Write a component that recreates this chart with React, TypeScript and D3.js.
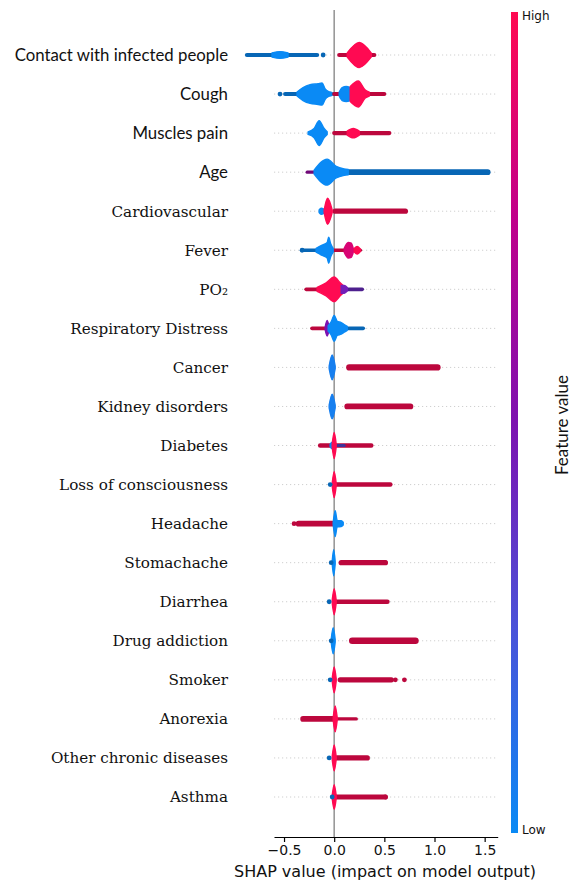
import React, { useEffect, useRef } from "react";
import * as d3 from "d3";

// Features, top to bottom (ordered by mean |SHAP|)
const features = [
  "Contact with infected people",
  "Cough",
  "Muscles pain",
  "Age",
  "Cardiovascular",
  "Fever",
  "PO₂",
  "Respiratory Distress",
  "Cancer",
  "Kidney disorders",
  "Diabetes",
  "Loss of consciousness",
  "Headache",
  "Stomachache",
  "Diarrhea",
  "Drug addiction",
  "Smoker",
  "Anorexia",
  "Other chronic diseases",
  "Asthma",
];

// Features whose labels are set in the sans face
const sansLabels = ["Contact with infected people", "Cough", "Muscles pain", "Age"];

const xTicks = [-0.5, 0, 0.5, 1, 1.5];

// Dense runs of points: [feature, feature value (0 low .. 1 high), shap from, shap to, density]
const bands: [string, number, number, number, number][] = [
  ["Contact with infected people", 0, -0.87, -0.17, 0.16],
  ["Contact with infected people", 1, 0.05, 0.4, 0.16],
  ["Cough", 0, -0.49, -0.3, 0.15],
  ["Cough", 0, -0.12, 0.0, 0.14],
  ["Cough", 1, 0.0, 0.07, 0.15],
  ["Cough", 1, 0.3, 0.5, 0.15],
  ["Muscles pain", 1, 0.0, 0.55, 0.16],
  ["Age", 0.6, -0.27, -0.18, 0.12],
  ["Age", 0, 0.0, 1.53, 0.22],
  ["Cardiovascular", 1, 0.01, 0.71, 0.2],
  ["Fever", 0, -0.31, -0.17, 0.14],
  ["Fever", 1, 0.0, 0.26, 0.14],
  ["PO₂", 1, -0.28, -0.14, 0.14],
  ["PO₂", 0.4, 0.08, 0.28, 0.14],
  ["Respiratory Distress", 1, -0.22, -0.09, 0.15],
  ["Respiratory Distress", 0, 0.1, 0.29, 0.14],
  ["Cancer", 1, 0.15, 1.03, 0.24],
  ["Kidney disorders", 1, 0.13, 0.76, 0.22],
  ["Diabetes", 1, -0.14, 0.37, 0.17],
  ["Diabetes", 0.3, -0.03, 0.1, 0.12],
  ["Loss of consciousness", 1, 0.0, 0.56, 0.17],
  ["Headache", 1, -0.355, -0.02, 0.22],
  ["Stomachache", 1, 0.07, 0.51, 0.2],
  ["Diarrhea", 1, 0.02, 0.53, 0.18],
  ["Drug addiction", 1, 0.18, 0.81, 0.25],
  ["Smoker", 1, 0.06, 0.57, 0.2],
  ["Anorexia", 1, -0.31, 0.0, 0.22],
  ["Anorexia", 1, 0.0, 0.22, 0.13],
  ["Other chronic diseases", 1, 0.03, 0.33, 0.2],
  ["Asthma", 1, 0.02, 0.51, 0.2],
];

// Piled-up clusters: feature, feature value, profile of [shap, density]
const blobs: { feature: string; v: number; pts: [number, number][] }[] = [
  { feature: "Contact with infected people", v: 0, pts: [[-0.62, 0.16], [-0.54, 0.26], [-0.46, 0.16]] },
  { feature: "Contact with infected people", v: 1, pts: [[0.13, 0.15], [0.25, 0.96], [0.37, 0.15]] },
  { feature: "Cough", v: 0, pts: [[-0.37, 0.15], [-0.31, 0.5], [-0.24, 0.72], [-0.16, 0.8], [-0.12, 0.85], [-0.09, 0.4], [-0.06, 0.2], [-0.03, 0.14]] },
  { feature: "Cough", v: 0, pts: [[0.05, 0.15], [0.08, 0.5], [0.12, 0.58], [0.16, 0.5]] },
  { feature: "Cough", v: 1, pts: [[0.16, 0.58], [0.24, 1.0], [0.31, 0.3], [0.35, 0.15]] },
  { feature: "Muscles pain", v: 0, pts: [[-0.26, 0.1], [-0.2, 0.35], [-0.15, 0.95], [-0.1, 0.35], [-0.07, 0.1]] },
  { feature: "Muscles pain", v: 1, pts: [[0.13, 0.15], [0.19, 0.36], [0.25, 0.15]] },
  { feature: "Age", v: 0, pts: [[-0.2, 0.15], [-0.07, 1.0], [0.02, 0.45], [0.1, 0.25], [0.14, 0.2]] },
  { feature: "Cardiovascular", v: 0, pts: [[-0.15, 0.1], [-0.13, 0.24], [-0.1, 0.15]] },
  { feature: "Cardiovascular", v: 1, pts: [[-0.1, 0.1], [-0.066, 1.0], [-0.02, 0.1]] },
  { feature: "Fever", v: 0, pts: [[-0.18, 0.15], [-0.12, 0.4], [-0.07, 0.6], [-0.055, 1.0], [-0.035, 0.5], [-0.01, 0.15]] },
  { feature: "Fever", v: 0.85, pts: [[0.1, 0.15], [0.14, 0.6], [0.17, 0.55], [0.19, 0.15]] },
  { feature: "Fever", v: 1, pts: [[0.2, 0.14], [0.23, 0.3], [0.26, 0.1]] },
  { feature: "PO₂", v: 1, pts: [[-0.17, 0.15], [-0.08, 0.5], [0.0, 0.95], [0.06, 0.5], [0.11, 0.15]] },
  { feature: "PO₂", v: 0.45, pts: [[0.07, 0.3], [0.1, 0.3], [0.13, 0.14]] },
  { feature: "Respiratory Distress", v: 0.5, pts: [[-0.09, 0.1], [-0.07, 0.6], [-0.05, 0.1]] },
  { feature: "Respiratory Distress", v: 0, pts: [[-0.06, 0.2], [-0.03, 0.5], [0.0, 1.0], [0.03, 0.55], [0.07, 0.45], [0.1, 0.3], [0.13, 0.15]] },
  { feature: "Cancer", v: 0.05, pts: [[-0.05, 0.1], [-0.02, 0.95], [0.01, 0.1]] },
  { feature: "Kidney disorders", v: 0.05, pts: [[-0.05, 0.1], [-0.02, 0.95], [0.01, 0.1]] },
  { feature: "Diabetes", v: 0, pts: [[-0.04, 0.1], [-0.02, 0.25], [0.0, 0.1]] },
  { feature: "Diabetes", v: 1, pts: [[-0.02, 0.1], [0.0, 1.0], [0.02, 0.1]] },
  { feature: "Loss of consciousness", v: 1, pts: [[-0.02, 0.1], [0.0, 1.0], [0.02, 0.1]] },
  { feature: "Headache", v: 0, pts: [[-0.01, 0.1], [0.01, 1.0], [0.03, 0.25], [0.07, 0.22], [0.09, 0.1]] },
  { feature: "Stomachache", v: 0, pts: [[-0.02, 0.1], [-0.005, 1.0], [0.01, 0.1]] },
  { feature: "Diarrhea", v: 1, pts: [[-0.02, 0.1], [0.0, 1.0], [0.02, 0.1]] },
  { feature: "Drug addiction", v: 0, pts: [[-0.03, 0.1], [-0.01, 1.0], [0.01, 0.1]] },
  { feature: "Smoker", v: 1, pts: [[-0.02, 0.1], [0.0, 1.0], [0.02, 0.1]] },
  { feature: "Anorexia", v: 1, pts: [[-0.01, 0.1], [0.01, 1.0], [0.03, 0.1]] },
  { feature: "Other chronic diseases", v: 1, pts: [[-0.02, 0.1], [0.0, 1.0], [0.02, 0.1]] },
  { feature: "Asthma", v: 1, pts: [[-0.02, 0.1], [0.0, 0.95], [0.02, 0.1]] },
];

// Isolated points: [feature, feature value, shap]
const dots: [string, number, number][] = [
  ["Contact with infected people", 0, -0.11],
  ["Cough", 0, -0.54],
  ["Fever", 0, -0.32],
  ["Loss of consciousness", 0, -0.04],
  ["Headache", 1, -0.4],
  ["Stomachache", 0, -0.03],
  ["Stomachache", 1, 0.51],
  ["Diarrhea", 0, -0.05],
  ["Drug addiction", 0, -0.03],
  ["Smoker", 0, -0.04],
  ["Smoker", 1, 0.61],
  ["Smoker", 1, 0.7],
  ["Other chronic diseases", 0, -0.05],
  ["Asthma", 0, -0.02],
  ["Asthma", 1, 0.51],
];

const W = 574;
const H = 884;

export default function App() {
  const ref = useRef<SVGSVGElement | null>(null);

  useEffect(() => {
    const svg = d3.select(ref.current);
    svg.selectAll("*").remove();

    const x = d3.scaleLinear().domain([-0.6, 1.63]).range([274, 497.7]);
    const y = d3.scalePoint<string>().domain(features).range([55, 797]);
    const half = d3.scaleLinear().domain([0, 1]).range([0, 13]);
    const color = d3
      .scaleLinear<string>()
      .domain([0, 0.25, 0.5, 0.75, 1])
      .range(["#0a8af5", "#4a52d8", "#7d12b0", "#c0008a", "#ff0a52"])
      .interpolate(d3.interpolateRgb);
    const bandColor = (v: number) => d3.color(color(v))!.darker(0.85).formatHex();

    // colour bar gradient
    const defs = svg.append("defs");
    const grad = defs
      .append("linearGradient")
      .attr("id", "fv")
      .attr("x1", 0)
      .attr("y1", 1)
      .attr("x2", 0)
      .attr("y2", 0);
    d3.range(0, 1.0001, 0.125).forEach((t) => {
      grad.append("stop").attr("offset", t).attr("stop-color", color(t));
    });

    // dotted row guides
    svg
      .append("g")
      .selectAll("line")
      .data(features)
      .join("line")
      .attr("x1", x(-0.6))
      .attr("x2", x(1.63))
      .attr("y1", (d) => y(d)!)
      .attr("y2", (d) => y(d)!)
      .attr("stroke", "#cfcfcf")
      .attr("stroke-width", 1)
      .attr("stroke-dasharray", "1.2,2.8");

    // zero line
    svg
      .append("line")
      .attr("x1", x(0))
      .attr("x2", x(0))
      .attr("y1", 10)
      .attr("y2", 837)
      .attr("stroke", "#999999")
      .attr("stroke-width", 1.6);

    const marks = svg.append("g");

    marks
      .selectAll("line.band")
      .data(bands)
      .join("line")
      .attr("class", "band")
      .attr("x1", (d) => x(d[2]))
      .attr("x2", (d) => x(d[3]))
      .attr("y1", (d) => y(d[0])!)
      .attr("y2", (d) => y(d[0])!)
      .attr("stroke", (d) => bandColor(d[1]))
      .attr("stroke-width", (d) => 2 * half(d[4]))
      .attr("stroke-linecap", "round");

    blobs.forEach((b) => {
      const cy = y(b.feature)!;
      const area = d3
        .area<[number, number]>()
        .x((p) => x(p[0]))
        .y0((p) => cy - half(p[1]))
        .y1((p) => cy + half(p[1]))
        .curve(d3.curveMonotoneX);
      marks
        .append("path")
        .attr("d", area(b.pts)!)
        .attr("fill", color(b.v))
        .attr("stroke", color(b.v))
        .attr("stroke-width", 1.4)
        .attr("stroke-linejoin", "round");
    });

    marks
      .selectAll("circle")
      .data(dots)
      .join("circle")
      .attr("cx", (d) => x(d[2]))
      .attr("cy", (d) => y(d[0])!)
      .attr("r", 2.4)
      .attr("fill", (d) => bandColor(d[1]));

    // feature labels
    svg
      .append("g")
      .selectAll("text")
      .data(features)
      .join("text")
      .attr("x", 228)
      .attr("y", (d) => y(d)!)
      .attr("dy", "0.35em")
      .attr("text-anchor", "end")
      .attr("fill", "#111")
      .style("font-family", (d) => (sansLabels.includes(d) ? "Lato, sans-serif" : "'DejaVu Serif', serif"))
      .style("font-size", (d) => (sansLabels.includes(d) ? "16.8px" : "15.2px"))
      .text((d) => d);

    // x axis
    const axis = svg
      .append("g")
      .attr("transform", `translate(0,837)`)
      .call(
        d3
          .axisBottom(x)
          .tickValues(xTicks)
          .tickFormat(d3.format(".1f") as any)
          .tickSize(5)
          .tickSizeOuter(0)
      );
    axis.select(".domain").attr("stroke", "#000").attr("stroke-width", 1.2);
    axis.selectAll(".tick line").attr("stroke", "#000").attr("stroke-width", 1.2);
    axis
      .selectAll(".tick text")
      .attr("y", 8)
      .style("font-family", "'DejaVu Sans', sans-serif")
      .style("font-size", "14px")
      .attr("fill", "#111");

    svg
      .append("text")
      .attr("x", 385)
      .attr("y", 877)
      .attr("text-anchor", "middle")
      .style("font-family", "'DejaVu Sans', sans-serif")
      .style("font-size", "16px")
      .attr("fill", "#111")
      .text("SHAP value (impact on model output)");

    // colour bar
    svg
      .append("rect")
      .attr("x", 511)
      .attr("y", 12)
      .attr("width", 7)
      .attr("height", 821)
      .attr("fill", "url(#fv)");
    svg
      .append("text")
      .attr("x", 522)
      .attr("y", 20)
      .style("font-family", "'DejaVu Sans', sans-serif")
      .style("font-size", "12px")
      .attr("fill", "#111")
      .text("High");
    svg
      .append("text")
      .attr("x", 522)
      .attr("y", 834)
      .style("font-family", "'DejaVu Sans', sans-serif")
      .style("font-size", "12px")
      .attr("fill", "#111")
      .text("Low");
    svg
      .append("text")
      .attr("transform", "translate(568,425) rotate(-90)")
      .attr("text-anchor", "middle")
      .style("font-family", "Lato, sans-serif")
      .style("font-size", "17px")
      .attr("fill", "#111")
      .text("Feature value");
  }, []);

  return (
    <svg
      ref={ref}
      width={W}
      height={H}
      style={{ position: "absolute", left: 0, top: 0, background: "#fff" }}
    />
  );
}
